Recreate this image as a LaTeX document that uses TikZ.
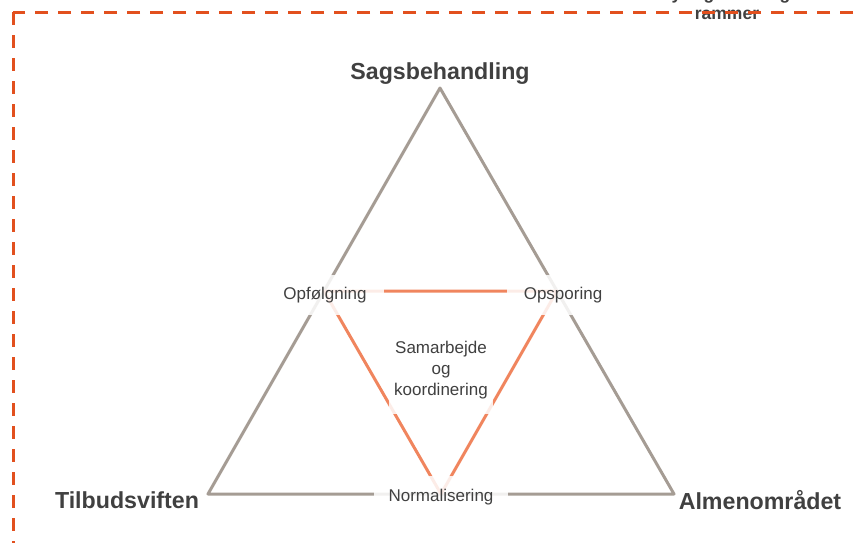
\documentclass[tikz,border=0pt]{standalone}
\usepackage{fontspec}
\setmainfont{Liberation Sans}
\usepackage{xcolor}
\usepackage{tikz}
\usetikzlibrary{calc}
\definecolor{frameColor}{HTML}{E2501E}
\definecolor{outerColor}{HTML}{A59C94}
\definecolor{innerColor}{HTML}{F0855E}
\definecolor{labelColor}{HTML}{404040}

\begin{document}
\begin{tikzpicture}[x=1pt, y=-1pt,
    corner/.style={font=\fontsize{23.2}{27}\selectfont\bfseries, text=labelColor},
    link/.style={font=\fontsize{17}{21}\selectfont, text=labelColor, fill=white,
        fill opacity=0.85, text opacity=1, inner xsep=17, minimum height=40},
    side/.style={line width=3, line join=round}]
    \useasboundingbox (0,0) rectangle (862,542);
    \clip (0,0) rectangle (862,542);

    \coordinate (sag) at (440,88);
    \coordinate (tilb) at (208,494);
    \coordinate (alm) at (674,494);
    \coordinate (opf) at ($(sag)!0.5!(tilb)$);
    \coordinate (ops) at ($(sag)!0.5!(alm)$);
    \coordinate (norm) at ($(tilb)!0.5!(alm)$);

    \draw[side, outerColor] (tilb) -- (sag) -- (alm) -- cycle;
    \draw[side, innerColor] (opf) -- (ops) -- (norm) -- cycle;

    \node[corner] (sagText) at (440,74) {Sagsbehandling};
    \node[corner] (tilbText) at (127,500) {Tilbudsviften};
    \node[corner] (almText) at (760,500) {Almenområdet};

    \node[link] (opfText) at (325,295) {Opfølgning};
    \node[link] (opsText) at (563,295) {Opsporing};
    \node[link, inner xsep=15, minimum height=42] (normText) at (441,497) {Normalisering};
    \node[link, align=center, inner xsep=5, minimum height=88] (samText) at (441,370)
        {Samarbejde\\og\\koordinering};

    \node[font=\fontsize{17.5}{20}\selectfont\bfseries, text=labelColor, align=center,
        inner sep=0, anchor=south] (ramText) at (727,19.5) {Styringsmæssige\\rammer};

    \draw[frameColor, line width=3, dash pattern=on 13 off 10] (13,12) rectangle (900,580);
\end{tikzpicture}
\end{document}
